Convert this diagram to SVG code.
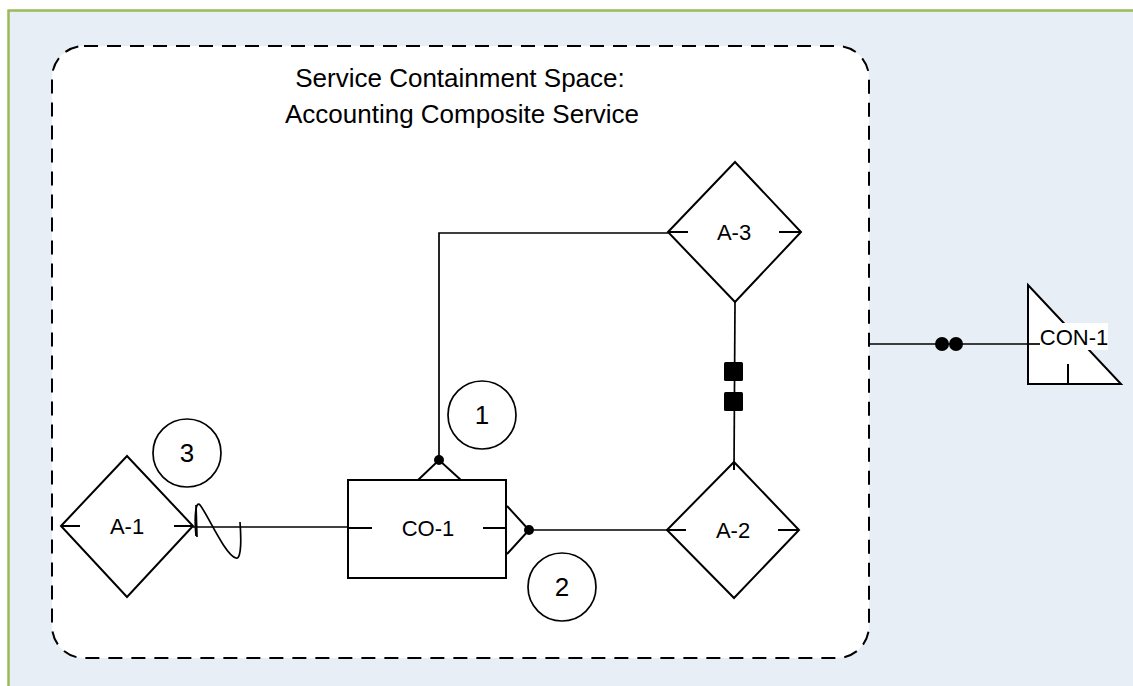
<svg xmlns="http://www.w3.org/2000/svg" width="1133" height="686" viewBox="0 0 1133 686">
<style>
.shape{fill:#fff;stroke:#000;stroke-width:2}
.ln{fill:none;stroke:#000;stroke-width:1.7}
.tk{fill:none;stroke:#000;stroke-width:2}
.lbl{font-family:"Liberation Sans",Arial,sans-serif;font-size:22px;fill:#000;text-anchor:middle}
.num{font-family:"Liberation Sans",Arial,sans-serif;font-size:26px;fill:#000;text-anchor:middle}
.title{font-family:"Liberation Sans",Arial,sans-serif;font-size:26px;fill:#000;text-anchor:middle}
</style>
<rect x="0" y="0" width="1133" height="686" fill="#ffffff"/>
<rect x="8.5" y="10.5" width="1135" height="690" fill="#E8EEF6" stroke="#9BBB59" stroke-width="2.5"/>
<g id="containment">
<rect x="52" y="46" width="817" height="612" rx="32" ry="32" fill="#ffffff" stroke="#000" stroke-width="2" stroke-dasharray="14,9"/>
<text class="title" x="460" y="87">Service Containment Space:</text>
<text class="title" x="462" y="123">Accounting Composite Service</text>
</g>
<g id="connectors">
<line class="ln" x1="193" y1="527" x2="348" y2="527"/>
<path class="ln" d="M196,536 C194,515 196,500 200,505 C208,515 225,555 236,558 C242,560 241,535 240,522"/>
<line class="ln" x1="196" y1="505" x2="197" y2="537"/>
<polyline class="ln" points="439,460 439,233 668,233"/>
<polyline class="tk" points="417,481 439,460 462,481"/>
<circle cx="439" cy="460" r="5" fill="#000"/>
<line class="ln" x1="529" y1="530" x2="667" y2="530"/>
<polyline class="tk" points="507,506 529,530 507,554"/>
<circle cx="529" cy="530" r="5" fill="#000"/>
<line class="ln" x1="735" y1="302" x2="734" y2="470"/>
<rect x="724" y="362" width="19" height="19" rx="1.5" fill="#000"/>
<rect x="724" y="392" width="19" height="19" rx="1.5" fill="#000"/>
<line class="ln" x1="869" y1="344" x2="1040" y2="344"/>
<circle cx="942" cy="344" r="7" fill="#000"/>
<circle cx="956" cy="344" r="7" fill="#000"/>
</g>
<g id="A-1">
<polygon class="shape" points="61,526 127,456 193,526 127,597"/>
<line class="tk" x1="61" y1="526" x2="80" y2="526"/>
<line class="tk" x1="174" y1="526" x2="193" y2="526"/>
<text class="lbl" x="127" y="534">A-1</text>
</g>
<g id="CO-1">
<rect class="shape" x="348" y="480" width="158" height="98"/>
<line class="tk" x1="348" y1="528" x2="372" y2="528"/>
<line class="tk" x1="483" y1="528" x2="506" y2="528"/>
<text class="lbl" x="428" y="536">CO-1</text>
</g>
<g id="A-3">
<polygon class="shape" points="668,232 735,162 801,232 735,302"/>
<line class="tk" x1="668" y1="232" x2="688" y2="232"/>
<line class="tk" x1="779" y1="232" x2="801" y2="232"/>
<text class="lbl" x="734" y="240">A-3</text>
</g>
<g id="A-2">
<polygon class="shape" points="667,530 734,462 799,530 734,598"/>
<line class="tk" x1="667" y1="530" x2="686" y2="530"/>
<line class="tk" x1="778" y1="530" x2="799" y2="530"/>
<line class="tk" x1="734" y1="462" x2="734" y2="470"/>
<text class="lbl" x="733" y="538">A-2</text>
</g>
<g id="CON-1">
<polygon class="shape" points="1028,285 1121,384 1028,384"/>
<line class="tk" x1="1068" y1="364" x2="1068" y2="384"/>
<line class="ln" x1="1028" y1="344" x2="1040" y2="344"/>
<rect x="1040" y="323" width="68" height="27" fill="#fff"/>
<text class="lbl" x="1074" y="345">CON-1</text>
</g>
<g id="marker-1">
<circle class="ln" cx="482" cy="415" r="34"/>
<text class="num" x="482" y="424">1</text>
</g>
<g id="marker-2">
<circle class="ln" cx="562" cy="587" r="34"/>
<text class="num" x="562" y="596">2</text>
</g>
<g id="marker-3">
<circle class="ln" cx="187" cy="453" r="34"/>
<text class="num" x="187" y="462">3</text>
</g>
</svg>
